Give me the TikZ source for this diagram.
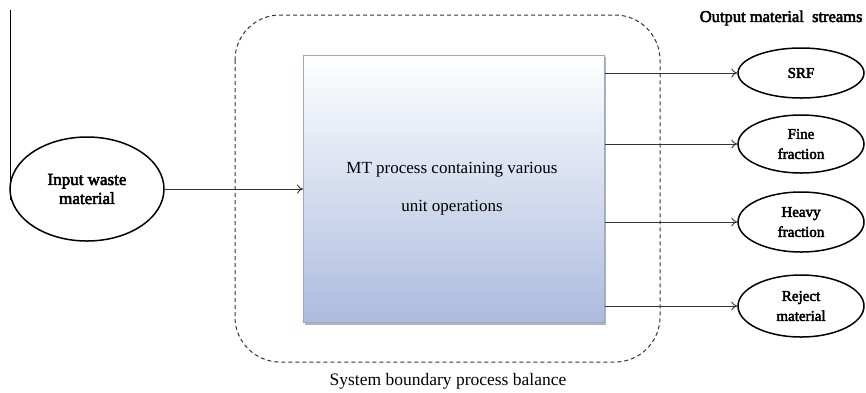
\documentclass[tikz,border=0pt]{standalone}
\usepackage{fontspec}
\setmainfont{Liberation Serif}
\newfontfamily\heavyserif[FakeBold=3]{Liberation Serif}
\usetikzlibrary{shapes.geometric,arrows.meta}
\definecolor{boxbot}{RGB}{172,187,222}
\definecolor{boxedge}{RGB}{150,168,210}
\tikzset{
  stream/.style={ellipse,draw=black,line width=1.5pt,inner sep=0pt,align=center,font=\heavyserif\fontsize{15}{20}\selectfont},
  flow/.style={draw=black!80,line width=0.9pt,-{To[length=6pt,width=9pt]}},
}
\begin{document}
\begin{tikzpicture}[x=1pt,y=-1pt]
\useasboundingbox (0,0) rectangle (866,392);
% left vertical line
\coordinate (vt) at (10,10);
\coordinate (vb) at (10,200);
\draw[line width=1pt] (vt) -- (vb);
% system boundary
\draw[dash pattern=on 4pt off 3pt,line width=1pt,black!80,rounded corners=45pt] (235,15) rectangle (660,362);
% process box with shadow
\fill[black!30] (305,57) rectangle (606,325);
\node[draw=boxedge,line width=0.8pt,top color=white,bottom color=boxbot,minimum width=301pt,minimum height=267pt,inner sep=0pt,anchor=north west] (mt) at (303,55) {};
\node[font=\fontsize{17}{17}\selectfont] (mt1) at (452,170) {MT process containing various};
\node[font=\fontsize{17}{17}\selectfont] (mt2) at (452,208) {unit operations};
% input
\node[stream,minimum width=154pt,minimum height=104pt,font=\heavyserif\fontsize{17}{19}\selectfont] (in) at (87,189) {Input waste\\material};
\draw[flow] (in.east) -- (mt.west |- in.east);
% outputs
\node[stream,minimum width=126pt,minimum height=50pt] (o1) at (801,73) {SRF};
\node[stream,minimum width=126pt,minimum height=58pt] (o2) at (801,144) {Fine\\fraction};
\node[stream,minimum width=126pt,minimum height=60pt] (o3) at (801,222) {Heavy\\fraction};
\node[stream,minimum width=126pt,minimum height=62pt] (o4) at (801,306) {Reject\\material};
\foreach \o in {o1,o2,o3,o4}{
  \draw[flow] (mt.east |- \o.west) -- (\o.west);
}
\node[font=\heavyserif\fontsize{16.5}{16.5}\selectfont,anchor=east] (title) at (866,18) {Output material~ streams};
\node[font=\fontsize{17.5}{17.5}\selectfont] (cap) at (448,381) {System boundary process balance};
\end{tikzpicture}
\end{document}
